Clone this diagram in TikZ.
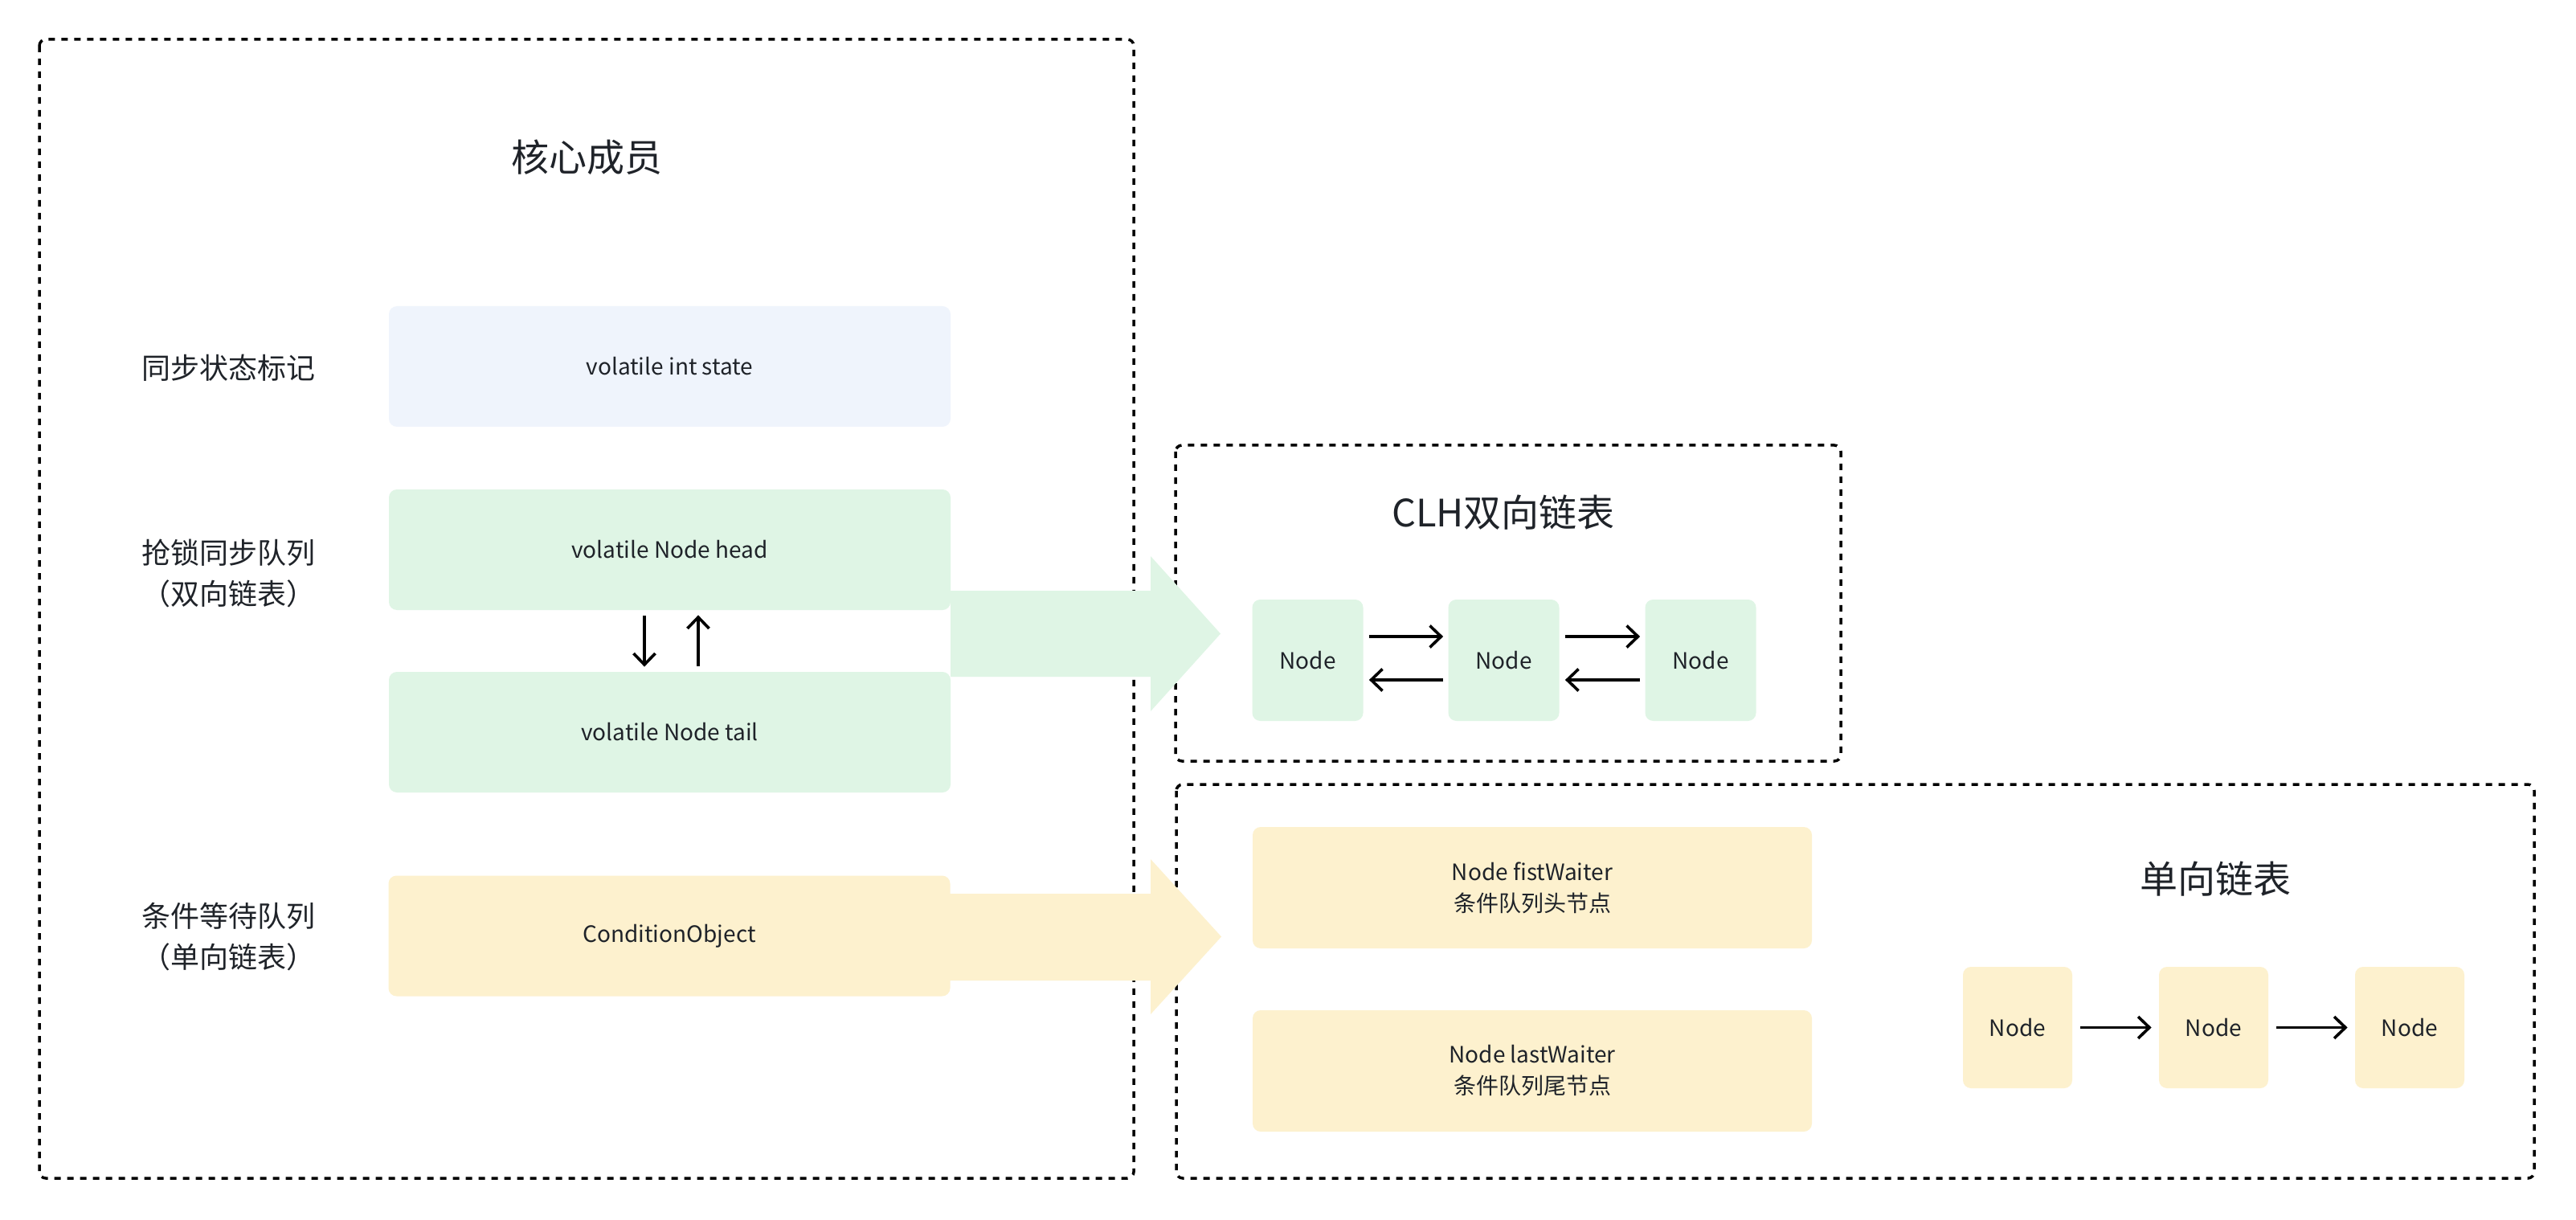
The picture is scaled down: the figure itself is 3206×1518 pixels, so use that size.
\documentclass[tikz,border=0pt]{standalone}
\usepackage{fontspec}
\setmainfont{Noto Sans CJK SC}
\usetikzlibrary{arrows.meta}
\definecolor{txt}{HTML}{1F2329}
\definecolor{bluebox}{HTML}{EFF4FC}
\definecolor{greenbox}{HTML}{DFF5E5}
\definecolor{yellowbox}{HTML}{FDF1CE}
\tikzset{
  frame/.style={draw=black, line width=1.75pt, dash pattern=on 4pt off 4pt, rounded corners=4pt},
  box/.style={rectangle, rounded corners=5pt, inner sep=0pt, text=txt, font=\fontsize{14pt}{19.5pt}\selectfont, align=center},
  widebox/.style={box, minimum width=349.5pt, minimum height=75pt},
  smallbox/.style={box, minimum width=69pt, minimum height=75.5pt},
  title/.style={text=txt, font=\fontsize{23.5pt}{28pt}\selectfont, inner sep=0pt},
  lbl/.style={text=txt, font=\fontsize{18pt}{25.5pt}\selectfont, align=center, inner sep=0pt},
  arr/.style={draw=black, line width=1.8pt, -{Straight Barb[length=7pt,width=13.5pt,line width=1.8pt]}},
}
\begin{document}
\begin{tikzpicture}[x=0.5pt,y=-0.5pt]
\useasboundingbox[fill=white] (0,0) rectangle (3206,1518);

% frames
\draw[frame] (49,49) rectangle (1411,1466);
\draw[frame] (1463,554) rectangle (2291,947);
\draw[frame] (1464,976) rectangle (3154,1466);

% titles
\node[title] (t1) at (730,196) {核心成员};
\node[title] (t2) at (1871,638) {CLH双向链表};
\node[title] (t3) at (2757,1094) {单向链表};

% left labels
\node[lbl] (l1) at (284,458) {同步状态标记};
\node[lbl] (l2) at (284,713) {抢锁同步队列\\（双向链表）};
\node[lbl] (l3) at (284,1166) {条件等待队列\\（单向链表）};

% left boxes
\node[widebox, fill=bluebox] (state) at (833.5,456) {volatile int state};
\node[widebox, fill=greenbox] (head) at (833.5,684) {volatile Node head};
\node[widebox, fill=greenbox] (tail) at (833.5,911) {volatile Node tail};
\node[widebox, fill=yellowbox] (cond) at (833,1164.5) {ConditionObject};

\draw[arr] ([xshift=-15.75pt,yshift=-3.5pt]head.south) -- ([xshift=-15.75pt,yshift=3pt]tail.north);
\draw[arr] ([xshift=17.75pt,yshift=3.5pt]tail.north) -- ([xshift=17.75pt,yshift=-3pt]head.south);

% big arrows
\fill[greenbox] (1183,735) -- (1432,735) -- (1432,692) -- (1519,788.5) -- (1432,885) -- (1432,842) -- (1183,842) -- cycle;
\fill[yellowbox] (1182,1112) -- (1432,1112) -- (1432,1069) -- (1520,1165.5) -- (1432,1262) -- (1432,1220) -- (1182,1220) -- cycle;

% CLH nodes
\node[smallbox, fill=greenbox] (c1) at (1627.5,821.5) {Node};
\node[smallbox, fill=greenbox] (c2) at (1871.5,821.5) {Node};
\node[smallbox, fill=greenbox] (c3) at (2116.5,821.5) {Node};
\draw[arr, shorten <=3.5pt, shorten >=3pt] ([yshift=14.75pt]c1.east) -- ([yshift=14.75pt]c2.west);
\draw[arr, shorten <=3pt, shorten >=3.5pt] ([yshift=-12.25pt]c2.west) -- ([yshift=-12.25pt]c1.east);
\draw[arr, shorten <=3.5pt, shorten >=3pt] ([yshift=14.75pt]c2.east) -- ([yshift=14.75pt]c3.west);
\draw[arr, shorten <=3pt, shorten >=3.5pt] ([yshift=-12.25pt]c3.west) -- ([yshift=-12.25pt]c2.east);

% condition boxes
\node[box, fill=yellowbox, minimum width=348pt, minimum height=75.5pt] (fist) at (1907,1104.5) {Node fistWaiter\\条件队列头节点};
\node[box, fill=yellowbox, minimum width=348pt, minimum height=75.5pt] (last) at (1907,1332.5) {Node lastWaiter\\条件队列尾节点};

% single list nodes
\node[smallbox, minimum width=68pt, fill=yellowbox] (s1) at (2511,1278.5) {Node};
\node[smallbox, minimum width=68pt, fill=yellowbox] (s2) at (2755,1278.5) {Node};
\node[smallbox, minimum width=68pt, fill=yellowbox] (s3) at (2999,1278.5) {Node};
\draw[arr, shorten <=5pt, shorten >=4.5pt] (s1.east) -- (s2.west);
\draw[arr, shorten <=5pt, shorten >=4.5pt] (s2.east) -- (s3.west);
\end{tikzpicture}
\end{document}
